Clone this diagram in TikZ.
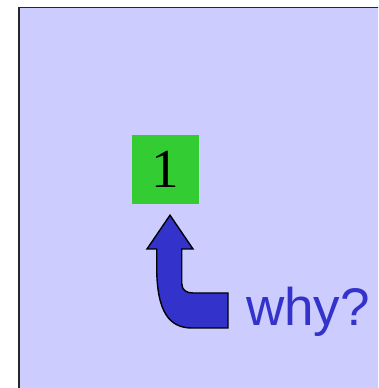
\documentclass[tikz,border=0pt]{standalone}
\usepackage{fontspec}
\setmainfont{Liberation Serif}
\newfontfamily\arialish{Liberation Sans}
\usepackage{tikz}
\usetikzlibrary{calc}
\definecolor{lavender}{HTML}{CCCCFF}
\definecolor{boxgreen}{HTML}{33CC33}
\definecolor{askblue}{HTML}{3333CC}
\tikzset{
	numbox/.style={fill=boxgreen, minimum width=67, minimum height=69, inner sep=0pt,
		font=\fontsize{55}{55}\selectfont},
	asktext/.style={text=askblue, inner sep=0pt, anchor=base west,
		font=\arialish\fontsize{53}{53}\selectfont},
	bentarrow/.style={fill=askblue, draw=black, line width=1.4, line join=miter}
}

\begin{document}
\begin{tikzpicture}[x=1pt,y=1pt]
	\useasboundingbox (0,0) rectangle (378,388);
	\clip (0,0) rectangle (378,388);

	% background panel, runs off the right and bottom edges
	\fill[lavender, draw=black!85, line width=1.8] (19,380.5) rectangle (400,-20);

	\node[numbox] (one) at (165.5,218.5) {1};
	\node[asktext] (why) at (246,62) {why?};

	% bent arrow pointing up at the box
	\coordinate (tip) at ($(one.south)+(4.5,-11)$);
	\draw[bentarrow] (tip) -- (193,139) -- (181.7,139) -- (181.7,105)
		.. controls (181.7,98) and (186,95) .. (193,95) -- (228,95) -- (228,60) -- (192,60)
		.. controls (170,60) and (156.7,75) .. (156.7,121) -- (156.7,139) -- (147,139) -- cycle;

\end{tikzpicture}
\end{document}
